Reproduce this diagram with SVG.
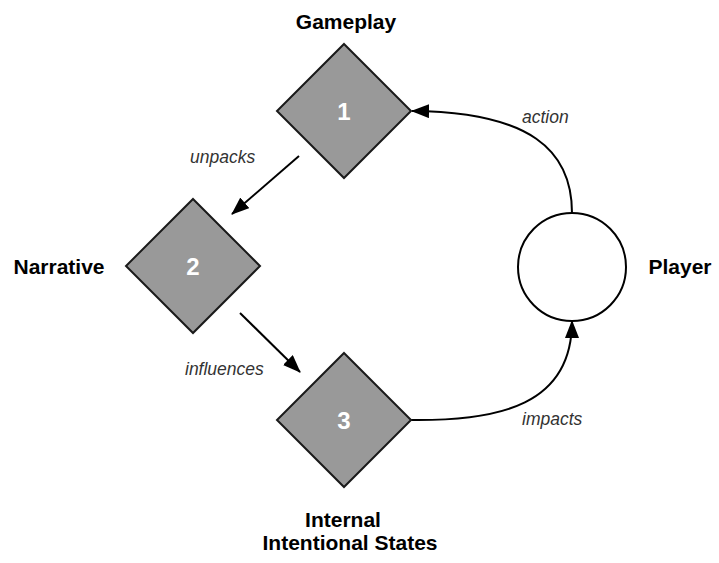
<svg xmlns="http://www.w3.org/2000/svg" width="719" height="563" viewBox="0 0 719 563">
<defs>
<marker id="arr" markerWidth="18" markerHeight="14" refX="17" refY="7" orient="auto" markerUnits="userSpaceOnUse">
<path d="M0,0 L18,7 L0,14 Z" fill="#000"/>
</marker>
<style>
.dia{fill:#999999;stroke:#1a1a1a;stroke-width:2}
.cir{fill:#fff;stroke:#000;stroke-width:2}
.num{font-family:"Liberation Sans",Arial,sans-serif;font-weight:bold;font-size:24px;fill:#fff;text-anchor:middle}
.ttl{font-family:"Liberation Sans",Arial,sans-serif;font-weight:bold;font-size:21px;fill:#000;text-anchor:middle}
.lbl{font-family:"Liberation Sans",Arial,sans-serif;font-style:italic;font-size:17.5px;fill:#333}
.edge{fill:none;stroke:#000;stroke-width:2;marker-end:url(#arr)}
</style>
</defs>
<rect width="719" height="563" fill="#fff"/>
<g id="connectors">
<path class="edge" d="M572,213 C572,150 530,112 412,111"/>
<path class="edge" d="M299,156 L232,214"/>
<path class="edge" d="M240,313 L300,372"/>
<path class="edge" d="M411,420 C500,421 572,405 572,321"/>
<text class="lbl" x="522" y="123">action</text>
<text class="lbl" x="190" y="163">unpacks</text>
<text class="lbl" x="185" y="375">influences</text>
<text class="lbl" x="522" y="425">impacts</text>
</g>
<g id="node1">
<polygon class="dia" points="344,44 411,111 344,178 277,111"/>
<text class="num" x="344" y="120">1</text>
<text class="ttl" x="346" y="29">Gameplay</text>
</g>
<g id="node2">
<polygon class="dia" points="193,199 260,266 193,333 126,266"/>
<text class="num" x="193" y="275">2</text>
<text class="ttl" x="59" y="274">Narrative</text>
</g>
<g id="node3">
<polygon class="dia" points="344,353 411,420 344,487 277,420"/>
<text class="num" x="344" y="429">3</text>
<text class="ttl" x="343" y="527">Internal</text>
<text class="ttl" x="350" y="550">Intentional States</text>
</g>
<g id="player">
<circle class="cir" cx="572" cy="267" r="54"/>
<text class="ttl" x="680" y="274">Player</text>
</g>
</svg>
